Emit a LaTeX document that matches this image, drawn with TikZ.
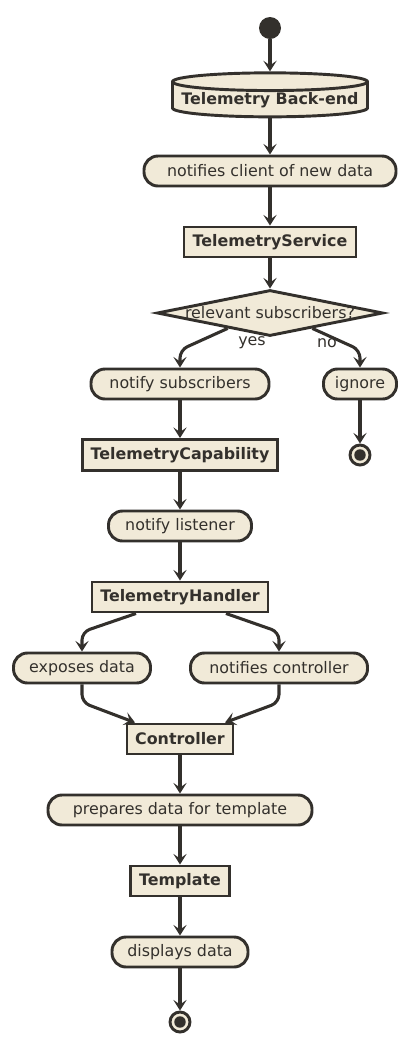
\documentclass[tikz,border=0pt]{standalone}
\usepackage{fontspec}
\setmainfont{DejaVu Sans}
\usetikzlibrary{shapes.geometric,arrows.meta,calc}

\definecolor{umlfill}{HTML}{F1EAD8}
\definecolor{umlline}{HTML}{33302C}
\newcommand{\pxu}{0.75pt}

\tikzset{
  base/.style={draw=umlline, fill=umlfill, line width=2.2pt, text=umlline,
    font=\fontsize{11.9}{14}\selectfont, minimum height=30*\pxu, inner sep=0pt},
  action/.style={base, rounded corners=14*\pxu},
  component/.style={base, font=\fontsize{11.9}{14}\selectfont\bfseries},
  database/.style={component, cylinder, shape border rotate=90, aspect=0.1},
  decision/.style={base, diamond, minimum width=226*\pxu, minimum height=46*\pxu},
  plain/.style={text=umlline, font=\fontsize{11.9}{14}\selectfont, inner sep=0pt},
  startnode/.style={circle, fill=umlline, minimum size=22*\pxu, inner sep=0pt},
  stopnode/.style={circle, draw=umlline, fill=umlfill, line width=2.2pt,
    minimum size=20*\pxu, inner sep=0pt,
    path picture={\fill[umlline] (path picture bounding box.center) circle (4.3pt);}},
  flow/.style={draw=umlline, line width=2.3pt, rounded corners=8*\pxu,
    -{Stealth[length=8pt, width=10pt, inset=3.5pt]}}
}

\begin{document}
\begin{tikzpicture}[x=\pxu, y=-\pxu]
\useasboundingbox (0,0) rectangle (415,1051);

% Nodes
\node[startnode] (start) at (270,28) {};
\node[database, minimum width=195*\pxu, minimum height=44*\pxu] (backend) at (270,100) {Telemetry Back-end};
\node[action, minimum width=252*\pxu] (notify) at (270,171) {notifies client of new data};
\node[component, minimum width=172*\pxu] (service) at (270,242) {TelemetryService};
\node[decision, label={[plain]center:relevant subscribers?}] (dec) at (270,313) {};
\node[plain] (yes) at (252,343) {yes};
\node[plain] (no) at (327,343) {no};
\node[action, minimum width=178*\pxu] (nsub) at (180,384) {notify subscribers};
\node[action, minimum width=73*\pxu] (ignore) at (360,384) {ignore};
\node[stopnode] (stop1) at (360,455) {};
\node[component, minimum width=195*\pxu, minimum height=31*\pxu] (capability) at (180,455) {TelemetryCapability};
\node[action, minimum width=143*\pxu] (listener) at (180,526) {notify listener};
\node[component, minimum width=176*\pxu] (handler) at (180,597) {TelemetryHandler};
\node[action, minimum width=137*\pxu] (exposes) at (82,668) {exposes data};
\node[action, minimum width=177*\pxu] (notctrl) at (279,668) {notifies controller};
\node[component, minimum width=106*\pxu] (controller) at (180,739) {Controller};
\node[action, minimum width=264*\pxu] (prepares) at (180,810) {prepares data for template};
\node[component, minimum width=99*\pxu] (template) at (180,881) {Template};
\node[action, minimum width=136*\pxu] (displays) at (180,952) {displays data};
\node[stopnode] (stop2) at (180,1022) {};

% Main flow
\draw[flow] (start) -- (backend);
\draw[flow] (backend) -- (notify);
\draw[flow] (notify) -- (service);
\draw[flow] (service) -- (dec);

% Branches
\draw[flow] ($(dec.south)!0.37!(dec.west)$) -- (nsub.north |- 0,350) -- (nsub.north);
\draw[flow] ($(dec.south)!0.37!(dec.east)$) -- (ignore.north |- 0,350) -- (ignore.north);
\draw[flow] (ignore) -- (stop1);
\draw[flow] (nsub) -- (capability);
\draw[flow] (capability) -- (listener);
\draw[flow] (listener) -- (handler);

% Fork and merge
\draw[flow] ($(handler.south)+(-44,0)$) -- (exposes.north |- 0,632) -- (exposes.north);
\draw[flow] ($(handler.south)+(46,0)$) -- (notctrl.north |- 0,632) -- (notctrl.north);
\draw[flow] (exposes.south) -- ($(exposes.south)+(0,18)$) -- ($(controller.north)+(-45,0)$);
\draw[flow] (notctrl.south) -- ($(notctrl.south)+(0,18)$) -- ($(controller.north)+(45,0)$);

% Tail
\draw[flow] (controller) -- (prepares);
\draw[flow] (prepares) -- (template);
\draw[flow] (template) -- (displays);
\draw[flow] (displays) -- (stop2);
\end{tikzpicture}
\end{document}
